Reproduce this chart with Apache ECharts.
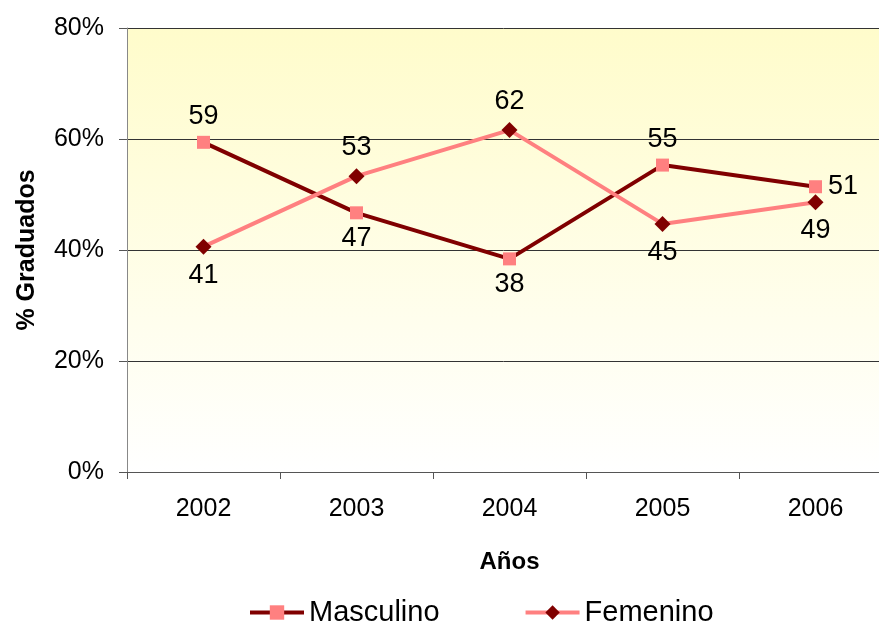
<!DOCTYPE html>
<html>
<head>
<meta charset="utf-8">
<script src="https://cdn.jsdelivr.net/npm/echarts@6/dist/echarts.min.js"></script>
<style>
html,body{margin:0;padding:0;background:#fff;}
#c{width:879px;height:623px;}
</style>
</head>
<body>
<div id="c"></div>
<script>
const years = ['2002', '2003', '2004', '2005', '2006'];
const masculino = [59.4, 46.7, 38.4, 55.3, 51.4];
const femenino = [40.6, 53.3, 61.6, 44.7, 48.6];
const yTicks = [0, 20, 40, 60, 80];

const DARK = '#800000';
const PINK = '#FF8080';
const FONT = '"Liberation Sans", Arial, sans-serif';

function labelled(values, other, isMasc) {
  return values.map((v, i) => {
    let pos = v >= other[i] ? 'top' : 'bottom';
    if (isMasc && i === values.length - 1) pos = 'right';
    return { value: v, label: { position: pos } };
  });
}

const chart = echarts.init(document.getElementById('c'), null, { renderer: 'canvas' });
chart.setOption({
  animation: false,
  backgroundColor: '#fff',
  textStyle: { fontFamily: FONT },
  grid: {
    left: 127, top: 28, width: 765, height: 444,
    outerBoundsMode: 'none',
    containLabel: false,
    show: true, borderWidth: 0,
    backgroundColor: new echarts.graphic.LinearGradient(0, 0, 0, 1, [
      { offset: 0, color: '#FFFCCB' },
      { offset: 1, color: '#FFFFFF' }
    ])
  },
  legend: {
    left: 243, top: 593,
    itemWidth: 54, itemHeight: 18, itemGap: 84,
    textStyle: { fontSize: 29, color: '#000', fontFamily: FONT },
    lineStyle: { width: 4 },
    data: ['Masculino', 'Femenino']
  },
  xAxis: {
    type: 'category',
    data: years,
    boundaryGap: true,
    name: 'Años',
    nameLocation: 'middle',
    nameGap: 78,
    nameTextStyle: { fontSize: 24, fontWeight: 'bold', color: '#000', fontFamily: FONT },
    axisLine: { lineStyle: { color: '#555', width: 1 } },
    axisTick: { show: true, length: 7, inside: false, lineStyle: { color: '#555' } },
    axisLabel: { fontSize: 25, color: '#000', margin: 25, fontFamily: FONT }
  },
  yAxis: {
    type: 'value',
    min: yTicks[0], max: yTicks[yTicks.length - 1], interval: 20,
    name: '% Graduados',
    nameLocation: 'middle',
    nameGap: 87,
    nameRotate: 90,
    nameTextStyle: { fontSize: 25, fontWeight: 'bold', color: '#000', fontFamily: FONT },
    axisLine: { show: true, lineStyle: { color: '#888', width: 1 } },
    axisTick: { show: true, length: 8, lineStyle: { color: '#555' } },
    axisLabel: { fontSize: 25, color: '#000', margin: 23, formatter: '{value}%', fontFamily: FONT },
    splitLine: { show: true, lineStyle: { color: '#333', width: 1 } }
  },
  series: [
    {
      name: 'Masculino',
      type: 'line',
      data: labelled(masculino, femenino, true),
      symbol: 'rect',
      symbolSize: 13,
      lineStyle: { color: DARK, width: 4 },
      itemStyle: { color: PINK, borderWidth: 0 },
      label: {
        show: true, fontSize: 27, color: '#000', distance: 6, fontFamily: FONT,
        formatter: p => Math.round(p.value)
      },
      z: 3
    },
    {
      name: 'Femenino',
      type: 'line',
      data: labelled(femenino, masculino, false),
      symbol: 'diamond',
      symbolSize: 16,
      lineStyle: { color: PINK, width: 4 },
      itemStyle: { color: DARK, borderWidth: 0 },
      label: {
        show: true, fontSize: 27, color: '#000', distance: 7, fontFamily: FONT,
        formatter: p => Math.round(p.value)
      },
      z: 4
    }
  ]
});
</script>
</body>
</html>
